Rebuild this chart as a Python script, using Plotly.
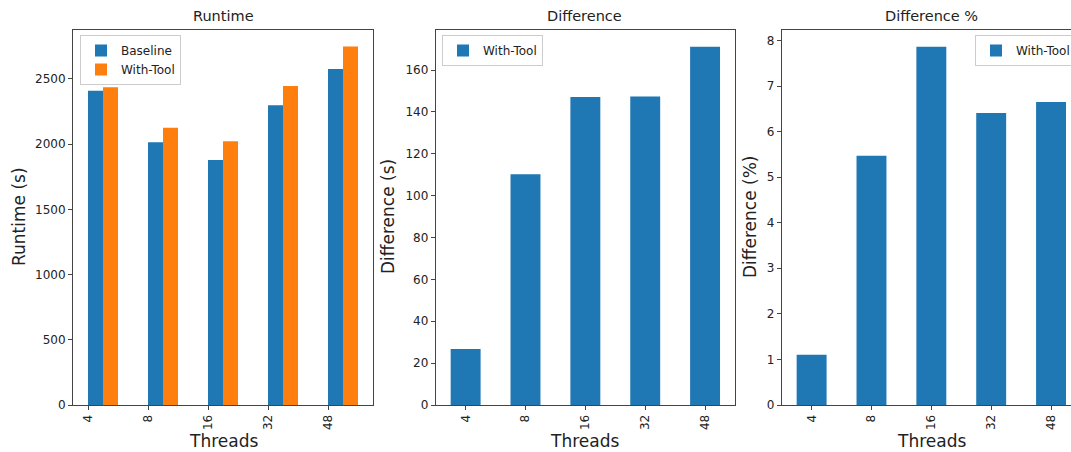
import plotly.graph_objects as go

threads = ["4", "8", "16", "32", "48"]
baseline = [2410, 2014, 1878, 2298, 2577]
with_tool = [2437, 2125, 2023, 2445, 2748]
difference = [26.7, 110.2, 147.1, 147.4, 171.1]
difference_pct = [1.10, 5.47, 7.86, 6.41, 6.65]

W, H = 1071, 452
BLUE = "#1f77b4"
ORANGE = "#ff7f0e"
FONT = "DejaVu Sans"
AX = "#444444"
idx = list(range(len(threads)))


def px(x):
    return x / W


def py(y):
    return 1 - y / H


fig = go.Figure()

fig.add_trace(go.Bar(x=idx, y=baseline, name="Baseline", marker_color=BLUE,
                     width=0.25, offset=0, xaxis="x", yaxis="y", legend="legend"))
fig.add_trace(go.Bar(x=idx, y=with_tool, name="With-Tool", marker_color=ORANGE,
                     width=0.25, offset=0.25, xaxis="x", yaxis="y", legend="legend"))
fig.add_trace(go.Bar(x=idx, y=difference, name="With-Tool", marker_color=BLUE,
                     width=0.5, xaxis="x2", yaxis="y2", legend="legend2"))
fig.add_trace(go.Bar(x=idx, y=difference_pct, name="With-Tool", marker_color=BLUE,
                     width=0.5, xaxis="x3", yaxis="y3", legend="legend3"))
fig.update_traces(marker_line_width=0)

ydom = [py(405), py(29.5)]
common_x = dict(tickmode="array", tickvals=idx, ticktext=threads, tickangle=-90,
                showline=True, linecolor=AX, linewidth=1, mirror=True,
                ticks="outside", ticklen=4, tickcolor=AX, showgrid=False,
                zeroline=False, automargin=False,
                tickfont=dict(family=FONT, size=12, color="#222"))
common_y = dict(showline=True, linecolor=AX, linewidth=1, mirror=True,
                ticks="outside", ticklen=4, tickcolor=AX, showgrid=False,
                zeroline=False, automargin=False,
                tickfont=dict(family=FONT, size=12, color="#222"))

layout = dict(
    width=W, height=H, margin=dict(l=0, r=0, t=0, b=0, autoexpand=False),
    paper_bgcolor="white", plot_bgcolor="white", barmode="overlay",
    font=dict(family=FONT, size=12, color="#222"),
    xaxis=dict(common_x, domain=[px(73), px(373)], range=[-0.25, 4.75], anchor="y"),
    yaxis=dict(common_y, domain=ydom, range=[0, 2879], tickvals=[0, 500, 1000, 1500, 2000, 2500], anchor="x"),
    xaxis2=dict(common_x, domain=[px(435.7), px(735)], range=[-0.5, 4.5], anchor="y2"),
    yaxis2=dict(common_y, domain=ydom, range=[0, 179.4], tickvals=list(range(0, 161, 20)), anchor="x2"),
    xaxis3=dict(common_x, domain=[px(781.7), 1.0], range=[-0.5, 4.5 - (1081 - 1071) / 60], anchor="y3"),
    yaxis3=dict(common_y, domain=ydom, range=[0, 8.24], tickvals=list(range(0, 9)), anchor="x3"),
)
layout["yaxis3"]["mirror"] = False

leg = dict(bgcolor="rgba(255,255,255,0.8)", bordercolor="#cccccc", borderwidth=1,
           xanchor="left", yanchor="top", font=dict(family=FONT, size=12, color="#222"),
           itemclick=False, tracegroupgap=0)
layout["legend"] = dict(leg, x=px(80), y=py(35))
layout["legend2"] = dict(leg, x=px(442), y=py(35))
layout["legend3"] = dict(leg, x=px(975), y=py(35))

fig.update_layout(**layout)

ann = []
for title, cx in [("Runtime", 223), ("Difference", 585), ("Difference %", 931)]:
    ann.append(dict(text=title, x=px(cx), y=py(16), xref="paper", yref="paper",
                    xanchor="center", yanchor="middle",
                    showarrow=False, font=dict(family=FONT, size=14.5, color="#222")))
for cx in [223, 585, 931]:
    ann.append(dict(text="Threads", x=px(cx), y=py(441), xref="paper", yref="paper",
                    xanchor="center", yanchor="middle",
                    showarrow=False, font=dict(family=FONT, size=17, color="#222")))
for label, cx in [("Runtime (s)", 19), ("Difference (s)", 388), ("Difference (%)", 750)]:
    ann.append(dict(text=label, x=px(cx), y=py(217), xref="paper", yref="paper",
                    xanchor="center", yanchor="middle",
                    showarrow=False, textangle=-90, font=dict(family=FONT, size=17, color="#222")))
fig.update_layout(annotations=ann)

fig.write_html("out.html", config={"displayModeBar": False},
               post_script="document.body.style.margin='0';document.body.style.overflow='hidden';")
